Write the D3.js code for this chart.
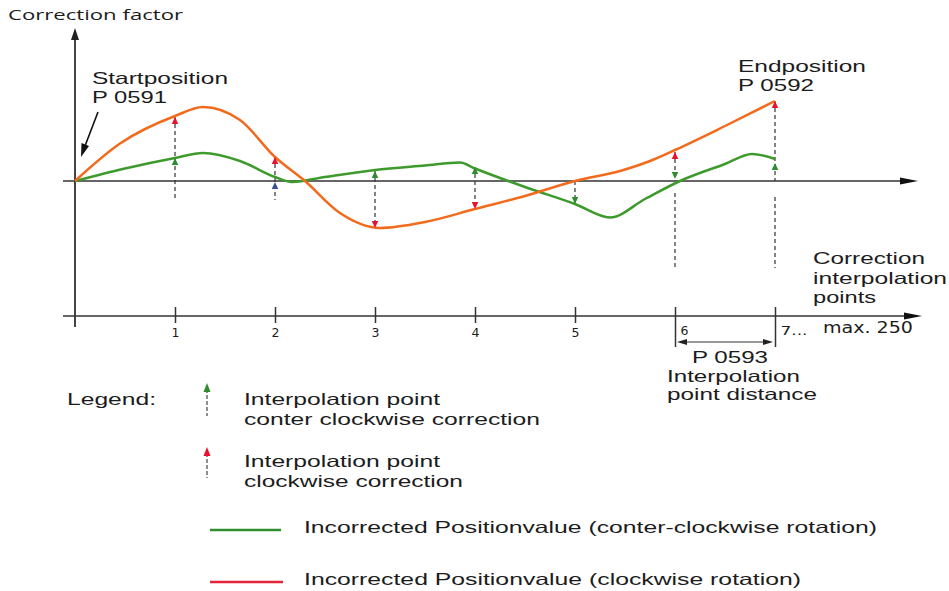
<!DOCTYPE html>
<html><head><meta charset="utf-8">
<script src="https://cdn.jsdelivr.net/npm/d3@7/dist/d3.min.js"></script>
<style>body{margin:0;background:#fff}svg{display:block}</style>
</head><body>
<svg id="c" width="949" height="591"></svg>
<script>
// ---- data (x in interpolation-point units, y in correction-factor units) ----
const cwX  = [0, 0.45, 1.0, 1.28, 1.65, 2.0, 2.3, 2.65, 3.05, 3.5, 4.0, 4.5, 5.0, 5.45, 5.75, 6.0, 6.5, 7.0];
const cwY  = [0, 0.75, 1.30, 1.48, 1.22, 0.48, 0.0, -0.64, -0.94, -0.82, -0.56, -0.30, 0.0, 0.20, 0.40, 0.62, 1.10, 1.60];
const ccwX = [0, 0.5, 1.0, 1.28, 1.65, 2.0, 2.17, 2.5, 3.0, 3.5, 3.85, 4.0, 4.5, 5.0, 5.35, 5.7, 6.05, 6.5, 6.77, 7.0];
const ccwY = [0, 0.25, 0.46, 0.56, 0.40, 0.08, -0.02, 0.08, 0.22, 0.31, 0.37, 0.25, -0.12, -0.46, -0.73, -0.36, 0.0, 0.34, 0.54, 0.44];

const pointX       = [1, 2, 3, 4, 5, 6, 7];
const tickLabels   = ["1", "2", "3", "4", "5", "6", "7..."];
const cwArrowTip   = [1.28, 0.48, -0.94, -0.56, null, 0.58, 1.60];
const cwArrowDir   = ["up", "up", "down", "down", null, "up", "up"];
const ccwArrowTip  = [0.46, -0.02, 0.20, 0.28, -0.46, 0.04, 0.36];
const ccwArrowDir  = ["up", "up", "up", "up", "down", "down", "up"];
const ccwArrowTone = ["green", "blue", "green", "green", "green", "green", "green"];
const guideTop     = [1.28, 0.48, 0.20, 0.28, 0.0, 0.58, 1.60];
const guideBottom  = [-0.38, -0.38, -0.94, -0.56, -0.46, 0.04, 0.0];
const lowGuideTop    = [null, null, null, null, null, -0.24, -0.32];
const lowGuideBottom = [null, null, null, null, null, -1.74, -1.74];

// ---- layout ----
const svg = d3.select("#c");
const x = d3.scaleLinear().domain([0, 7]).range([75, 775]);
const y = d3.scaleLinear().domain([-1, 1]).range([231, 131]);
const AX_Y = 181, LOW_Y = 316;
const C = {orange:"#f26b1d", green:"#3e9a2c", red:"#e8122d", garrow:"#2e8b2e", blue:"#34509a", axis:"#333", text:"#1c1c1c"};
const SANS = "'Liberation Sans', Arial, sans-serif";

function arrowHead(g, px, py, dir, color, w = 7, h = 8) {
  const s = dir === "up" ? 1 : -1;
  g.append("path")
    .attr("d", `M${px},${py} L${px - w/2},${py + s*h} L${px + w/2},${py + s*h} Z`)
    .attr("fill", color);
}
function txt(str, tx, ty, len, size = 16.5, fam = SANS, anchor = "start") {
  const t = svg.append("text").attr("x", tx).attr("y", ty)
    .attr("font-family", fam).attr("font-size", size).attr("fill", C.text)
    .attr("text-anchor", anchor).text(str);
  if (len) t.attr("textLength", len).attr("lengthAdjust", "spacingAndGlyphs");
  return t;
}

// ---- axes ----
svg.append("line").attr("x1", 75).attr("x2", 75).attr("y1", 327).attr("y2", 38)
  .attr("stroke", "#444").attr("stroke-width", 2);
arrowHead(svg, 75, 28, "up", "#222", 8, 12);
svg.append("line").attr("x1", 63).attr("x2", 905).attr("y1", AX_Y).attr("y2", AX_Y)
  .attr("stroke", C.axis).attr("stroke-width", 1.5);
svg.append("path").attr("d", `M918,${AX_Y} L900,${AX_Y-3.5} L900,${AX_Y+3.5} Z`).attr("fill", "#111");

const lowAxis = d3.axisBottom(x).tickValues(pointX)
  .tickFormat((d, i) => tickLabels[i]).tickSizeOuter(0);
const gAx = svg.append("g").attr("transform", `translate(0,${LOW_Y})`).call(lowAxis);
gAx.select(".domain").remove();
gAx.selectAll(".tick line").attr("stroke", C.axis).attr("stroke-width", 1.5)
  .attr("y1", -9).attr("y2", (d) => d >= 6 ? 31 : 7);
gAx.selectAll(".tick text")
  .attr("font-family", "'DejaVu Sans', sans-serif").attr("font-size", 12.5).attr("fill", C.text)
  .attr("dy", 0).attr("y", (d) => d >= 6 ? 19 : 21)
  .attr("x", (d) => d >= 6 ? 5 : 0)
  .attr("text-anchor", (d) => d >= 6 ? "start" : "middle");
gAx.selectAll(".tick text").filter((d) => d === 7)
  .attr("textLength", 27).attr("lengthAdjust", "spacingAndGlyphs");
svg.append("line").attr("x1", 63).attr("x2", 908).attr("y1", LOW_Y).attr("y2", LOW_Y)
  .attr("stroke", C.axis).attr("stroke-width", 1.5);
svg.append("path").attr("d", `M922,${LOW_Y} L904,${LOW_Y-3.5} L904,${LOW_Y+3.5} Z`).attr("fill", "#111");
svg.append("line").attr("x1", 75).attr("x2", 75).attr("y1", LOW_Y).attr("y2", LOW_Y + 9)
  .attr("stroke", "#444").attr("stroke-width", 2);

// interpolation point distance double arrow
const dY = 342;
svg.append("line").attr("x1", x(6) + 8).attr("x2", x(7) - 8).attr("y1", dY).attr("y2", dY)
  .attr("stroke", "#333").attr("stroke-width", 1);
svg.append("path").attr("d", `M${x(6)+2},${dY} L${x(6)+12},${dY-3} L${x(6)+12},${dY+3} Z`).attr("fill", "#222");
svg.append("path").attr("d", `M${x(7)-2},${dY} L${x(7)-12},${dY-3} L${x(7)-12},${dY+3} Z`).attr("fill", "#222");

// ---- guide dashed lines ----
const gG = svg.append("g");
pointX.forEach((p, i) => {
  gG.append("line").attr("x1", x(p)).attr("x2", x(p))
    .attr("y1", y(guideTop[i])).attr("y2", y(guideBottom[i]))
    .attr("stroke", "#333").attr("stroke-width", 1.2).attr("stroke-dasharray", "4,3");
  if (lowGuideTop[i] != null) {
    gG.append("line").attr("x1", x(p)).attr("x2", x(p))
      .attr("y1", y(lowGuideTop[i])).attr("y2", y(lowGuideBottom[i]))
      .attr("stroke", "#333").attr("stroke-width", 1.2).attr("stroke-dasharray", "4,3");
  }
});

// ---- curves ----
const line = d3.line().x(d => x(d[0])).y(d => y(d[1])).curve(d3.curveMonotoneX);
svg.append("path").datum(ccwX.map((v, i) => [v, ccwY[i]]))
  .attr("d", line).attr("fill", "none").attr("stroke", C.green).attr("stroke-width", 2.5);
svg.append("path").datum(cwX.map((v, i) => [v, cwY[i]]))
  .attr("d", line).attr("fill", "none").attr("stroke", C.orange).attr("stroke-width", 2.5);

// ---- arrow heads at interpolation points ----
const gA = svg.append("g");
pointX.forEach((p, i) => {
  if (cwArrowTip[i] != null) arrowHead(gA, x(p), y(cwArrowTip[i]), cwArrowDir[i], C.red, 6.5, 7);
  const col = ccwArrowTone[i] === "blue" ? C.blue : C.garrow;
  arrowHead(gA, x(p), y(ccwArrowTip[i]), ccwArrowDir[i], col, 6.5, 7);
});

// ---- start position pointer ----
svg.append("line").attr("x1", 98).attr("y1", 112).attr("x2", 85).attr("y2", 146)
  .attr("stroke", "#111").attr("stroke-width", 1.6);
svg.append("path").attr("d", "M81,157 L81.5,143 L89,146 Z").attr("fill", "#111");

// ---- texts ----
txt("Correction factor", 8, 20, 175, 14, "'Open Sans', 'DejaVu Sans', sans-serif");
txt("Startposition", 92, 84, 136);
txt("P 0591", 92, 103, 75);
txt("Endposition", 738, 72, 128);
txt("P 0592", 738, 91, 76);
txt("Correction", 813, 264, 112);
txt("interpolation", 813, 284, 134);
txt("points", 813, 303, 63);
txt("max. 250", 823, 333, 90, 15, "'DejaVu Sans', sans-serif");
txt("P 0593", 692, 363, 76);
txt("Interpolation", 667, 382, 133);
txt("point distance", 667, 400, 150);

// ---- legend ----
txt("Legend:", 67, 405, 89);
function legendArrow(px, tip, bottom, color) {
  svg.append("line").attr("x1", px).attr("x2", px).attr("y1", tip + 6).attr("y2", bottom)
    .attr("stroke", "#555").attr("stroke-width", 1.3).attr("stroke-dasharray", "4,2");
  arrowHead(svg, px, tip, "up", color, 7, 9);
}
legendArrow(207, 383, 416, C.garrow);
txt("Interpolation point", 244, 405, 196);
txt("conter clockwise correction", 244, 425, 296);
legendArrow(207, 447, 478, C.red);
txt("Interpolation point", 244, 467, 196);
txt("clockwise correction", 244, 487, 219);

svg.append("line").attr("x1", 210).attr("x2", 281).attr("y1", 530).attr("y2", 530)
  .attr("stroke", "#2f8f2f").attr("stroke-width", 2.5);
txt("Incorrected Positionvalue (conter-clockwise rotation)", 304, 533, 573);
svg.append("line").attr("x1", 210).attr("x2", 283).attr("y1", 582).attr("y2", 582)
  .attr("stroke", "#e5243b").attr("stroke-width", 2.5);
txt("Incorrected Positionvalue (clockwise rotation)", 304, 585, 497);
</script>
</body></html>
